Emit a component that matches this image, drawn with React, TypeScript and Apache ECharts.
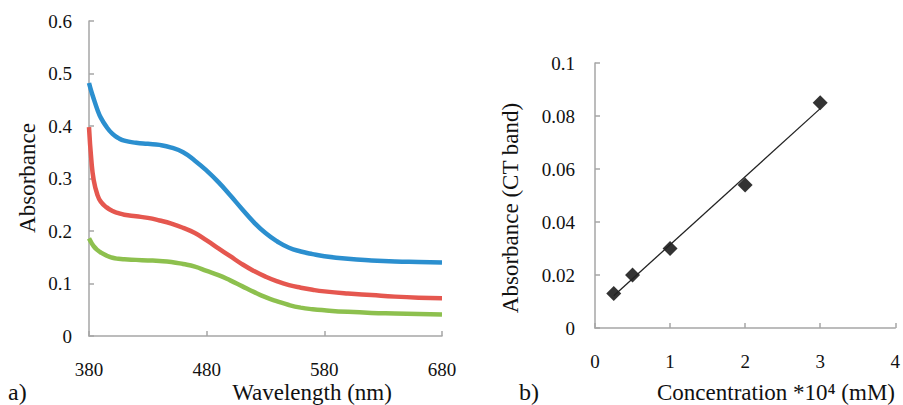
import React, { useEffect, useRef } from "react";
import * as echarts from "echarts";

// Panel a) UV-vis spectra
const wavelengths = [380, 382, 384, 387, 390, 395, 400, 405, 410, 420, 430, 440, 450, 460, 470, 480, 490, 500, 510, 520, 530, 540, 550, 560, 570, 580, 600, 620, 640, 660, 680];
const blueAbs = [0.482, 0.466, 0.452, 0.432, 0.416, 0.398, 0.385, 0.377, 0.372, 0.368, 0.366, 0.364, 0.359, 0.35, 0.334, 0.315, 0.293, 0.268, 0.242, 0.217, 0.196, 0.18, 0.168, 0.161, 0.156, 0.152, 0.147, 0.144, 0.142, 0.141, 0.14];
const redAbs = [0.398, 0.335, 0.297, 0.27, 0.256, 0.245, 0.238, 0.234, 0.231, 0.228, 0.225, 0.22, 0.214, 0.206, 0.196, 0.182, 0.167, 0.152, 0.137, 0.124, 0.113, 0.104, 0.097, 0.092, 0.088, 0.085, 0.081, 0.078, 0.075, 0.073, 0.072];
const greenAbs = [0.186, 0.178, 0.171, 0.164, 0.159, 0.153, 0.149, 0.147, 0.146, 0.145, 0.144, 0.143, 0.141, 0.137, 0.132, 0.124, 0.116, 0.106, 0.095, 0.084, 0.074, 0.066, 0.059, 0.054, 0.051, 0.049, 0.046, 0.044, 0.043, 0.042, 0.041];

// Panel b) calibration
const concentrations = [0.25, 0.5, 1, 2, 3];
const ctAbs = [0.013, 0.02, 0.03, 0.054, 0.085];

const FONT = "Liberation Serif";
const AXIS_COLOR = "#a6a6a6";

function linearFit(xs: number[], ys: number[]) {
  const n = xs.length;
  const mx = xs.reduce((a, b) => a + b, 0) / n;
  const my = ys.reduce((a, b) => a + b, 0) / n;
  let sxy = 0, sxx = 0;
  for (let i = 0; i < n; i++) {
    sxy += (xs[i] - mx) * (ys[i] - my);
    sxx += (xs[i] - mx) * (xs[i] - mx);
  }
  const slope = sxy / sxx;
  return { slope, intercept: my - slope * mx };
}

export default function App() {
  const ref = useRef<HTMLDivElement>(null);
  useEffect(() => {
    if (!ref.current) return;
    const chart = echarts.init(ref.current, undefined, { renderer: "svg" });
    const fit = linearFit(concentrations, ctAbs);
    const x0 = concentrations[0];
    const x1 = concentrations[concentrations.length - 1];
    const fitLine = [
      [x0, fit.intercept + fit.slope * x0],
      [x1, fit.intercept + fit.slope * x1],
    ];
    const axisCommon = {
      axisLine: { show: true, lineStyle: { color: AXIS_COLOR, width: 1.5 } },
      axisTick: { show: true, inside: true, length: 5, lineStyle: { color: AXIS_COLOR, width: 1.5 } },
      splitLine: { show: false },
      axisLabel: { color: "#111", fontFamily: FONT, fontSize: 19 },
    };
    const mk = (xs: number[], ys: number[]) => xs.map((x, i) => [x, ys[i]]);
    const lineSeries = (ys: number[], color: string) => ({
      type: "line", xAxisIndex: 0, yAxisIndex: 0, data: mk(wavelengths, ys),
      smooth: 0.5, showSymbol: false,
      lineStyle: { color, width: 4.5 }, itemStyle: { color },
    });
    chart.setOption({
      animation: false,
      backgroundColor: "#fff",
      textStyle: { fontFamily: FONT },
      grid: [
        { left: 89, top: 21, width: 353, height: 315 },
        { left: 595, top: 63, width: 303, height: 265 },
      ],
      xAxis: [
        {
          gridIndex: 0, type: "value", min: 380, max: 680, interval: 100,
          ...axisCommon,
          axisLabel: { ...axisCommon.axisLabel, margin: 24 },
        },
        {
          gridIndex: 1, type: "value", min: 0, max: 4, interval: 1,
          ...axisCommon,
          axisLabel: { ...axisCommon.axisLabel, margin: 24 },
        },
      ],
      yAxis: [
        {
          gridIndex: 0, type: "value", min: 0, max: 0.6, interval: 0.1,
          ...axisCommon,
          axisLabel: { ...axisCommon.axisLabel, margin: 17 },
        },
        {
          gridIndex: 1, type: "value", min: 0, max: 0.1, interval: 0.02,
          ...axisCommon,
          axisLabel: { ...axisCommon.axisLabel, margin: 20 },
        },
      ],
      series: [
        lineSeries(blueAbs, "#2b8fcf"),
        lineSeries(redAbs, "#e5574f"),
        lineSeries(greenAbs, "#8dc04e"),
        { type: "line", xAxisIndex: 1, yAxisIndex: 1, data: fitLine, showSymbol: false, lineStyle: { color: "#222", width: 1.3 } },
        { type: "scatter", xAxisIndex: 1, yAxisIndex: 1, data: mk(concentrations, ctAbs), symbol: "diamond", symbolSize: 15, itemStyle: { color: "#000" } },
      ],
      graphic: [
        { type: "text", x: 27, y: 178, rotation: Math.PI / 2, style: { text: "Absorbance", fontFamily: FONT, fontSize: 23, fill: "#111", align: "center", verticalAlign: "middle" } },
        { type: "text", x: 312, y: 392, style: { text: "Wavelength (nm)", fontFamily: FONT, fontSize: 23, fill: "#111", align: "center", verticalAlign: "middle" } },
        { type: "text", x: 8, y: 392, style: { text: "a)", fontFamily: FONT, fontSize: 24, fill: "#111", align: "left", verticalAlign: "middle" } },
        { type: "text", x: 510, y: 208, rotation: Math.PI / 2, style: { text: "Absorbance (CT band)", fontFamily: FONT, fontSize: 23, fill: "#111", align: "center", verticalAlign: "middle" } },
        { type: "text", x: 776, y: 392, style: { text: "Concentration *10\u2074 (mM)", fontFamily: FONT, fontSize: 23, fill: "#111", align: "center", verticalAlign: "middle" } },
        { type: "text", x: 519, y: 392, style: { text: "b)", fontFamily: FONT, fontSize: 24, fill: "#111", align: "left", verticalAlign: "middle" } },
      ],
    });
    return () => chart.dispose();
  }, []);
  return <div ref={ref} style={{ position: "fixed", left: 0, top: 0, width: 903, height: 405 }} />;
}
